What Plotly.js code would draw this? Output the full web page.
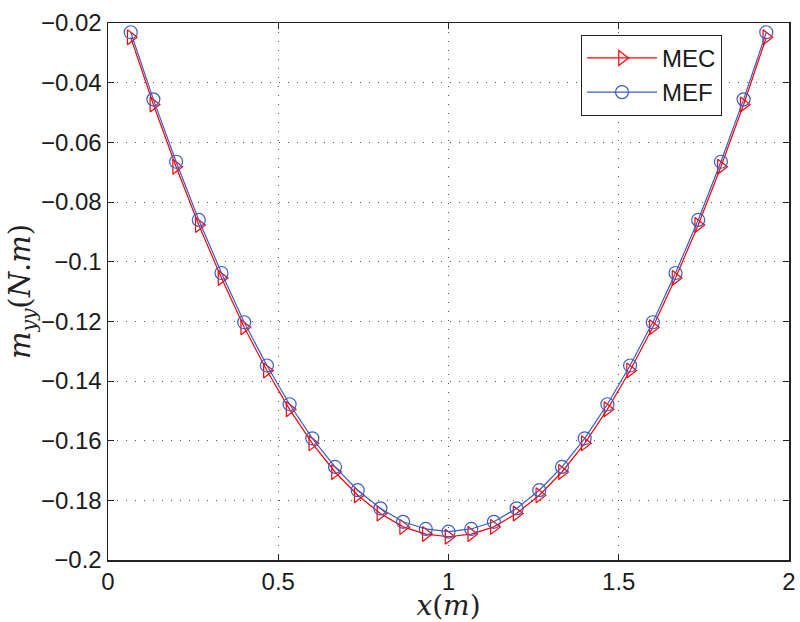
<!DOCTYPE html>
<html>
<head>
<meta charset="utf-8">
<script src="https://cdn.plot.ly/plotly-3.0.1.min.js"></script>
<style>
html, body { margin: 0; padding: 0; background: #fff; }
#chart { width: 800px; height: 622px; }
</style>
</head>
<body>
<div id="chart"></div>
<script>
// x positions (m)
const xValues = [0.0667, 0.1333, 0.2, 0.2667, 0.3333, 0.4, 0.4667, 0.5333, 0.6, 0.6667,
  0.7333, 0.8, 0.8667, 0.9333, 1.0, 1.0667, 1.1333, 1.2, 1.2667, 1.3333,
  1.4, 1.4667, 1.5333, 1.6, 1.6667, 1.7333, 1.8, 1.8667, 1.9333];

// MEC series (triangles)
const mecValues = [-0.0248, -0.0473, -0.0682, -0.0877, -0.1055, -0.1220, -0.1365, -0.1495, -0.1609, -0.1705,
  -0.1783, -0.1844, -0.1889, -0.1913, -0.1922, -0.1913, -0.1889, -0.1844, -0.1783, -0.1705,
  -0.1609, -0.1495, -0.1365, -0.1220, -0.1055, -0.0877, -0.0682, -0.0473, -0.0248];

// MEF series (circles)
const mefValues = [-0.0231, -0.0456, -0.0665, -0.0860, -0.1038, -0.1203, -0.1348, -0.1478, -0.1592, -0.1688,
  -0.1766, -0.1827, -0.1872, -0.1896, -0.1905, -0.1896, -0.1872, -0.1827, -0.1766, -0.1688,
  -0.1592, -0.1478, -0.1348, -0.1203, -0.1038, -0.0860, -0.0665, -0.0456, -0.0231];

const seriesNames = ['MEC', 'MEF'];

const xTickVals = [0, 0.5, 1, 1.5, 2];
const xTickText = ['0', '0.5', '1', '1.5', '2'];
const yTickVals = [-0.2, -0.18, -0.16, -0.14, -0.12, -0.1, -0.08, -0.06, -0.04, -0.02];
const yTickText = ['\u22120.2', '\u22120.18', '\u22120.16', '\u22120.14', '\u22120.12', '\u22120.1', '\u22120.08', '\u22120.06', '\u22120.04', '\u22120.02'];

const traces = [
  {
    x: xValues, y: mecValues, name: seriesNames[0], type: 'scatter', mode: 'lines+markers',
    line: { color: '#ff0000', width: 1.2 },
    marker: { symbol: 'triangle-right-open', size: 13, color: '#ff0000', line: { color: '#ff0000', width: 1.2 } }
  },
  {
    x: xValues, y: mefValues, name: seriesNames[1], type: 'scatter', mode: 'lines+markers',
    line: { color: '#3a5cc4', width: 1.2 },
    marker: { symbol: 'circle-open', size: 13, color: '#3a5cc4', line: { color: '#3a5cc4', width: 1.2 } }
  }
];

const tickFont = { family: 'Liberation Sans, Arial, sans-serif', size: 24, color: '#1a1a1a' };
const gridStyle = { showgrid: true, gridcolor: 'rgba(40,40,40,0.8)', gridwidth: 1, griddash: '1px,8px' };

const layout = {
  width: 800, height: 622,
  margin: { l: 108, r: 11, t: 23, b: 62 },
  paper_bgcolor: '#ffffff', plot_bgcolor: '#ffffff',
  showlegend: true,
  legend: {
    x: 0.6946, y: 0.978, xanchor: 'left', yanchor: 'top',
    bgcolor: '#ffffff', bordercolor: '#222', borderwidth: 1,
    font: { family: 'Liberation Sans, Arial, sans-serif', size: 24, color: '#1a1a1a' },
    itemwidth: 70,
    tracegroupgap: 0
  },
  xaxis: Object.assign({
    range: [0, 2], tickvals: xTickVals, ticktext: xTickText,
    ticks: 'inside', ticklen: 6, tickcolor: '#222', tickwidth: 1,
    showline: true, linecolor: '#222', linewidth: 1.5, mirror: 'ticks',
    zeroline: false, tickfont: tickFont,
    title: { text: '<i>x</i>(<i>m</i>)', font: { family: 'DejaVu Serif, serif', size: 28, color: '#222' }, standoff: 0 }
  }, gridStyle),
  yaxis: Object.assign({
    range: [-0.2, -0.02], tickvals: yTickVals, ticktext: yTickText,
    ticks: 'inside', ticklen: 6, tickcolor: '#222', tickwidth: 1,
    showline: true, linecolor: '#222', linewidth: 1.5, mirror: 'ticks',
    zeroline: false, tickfont: tickFont,
    title: { text: '<i>m</i><sub><i>yy</i></sub>(<i>N</i>.<i>m</i>)', font: { family: 'DejaVu Serif, serif', size: 29, color: '#222' }, standoff: 2 }
  }, gridStyle)
};

Plotly.newPlot('chart', traces, layout, { displayModeBar: false, staticPlot: true });
</script>
</body>
</html>
